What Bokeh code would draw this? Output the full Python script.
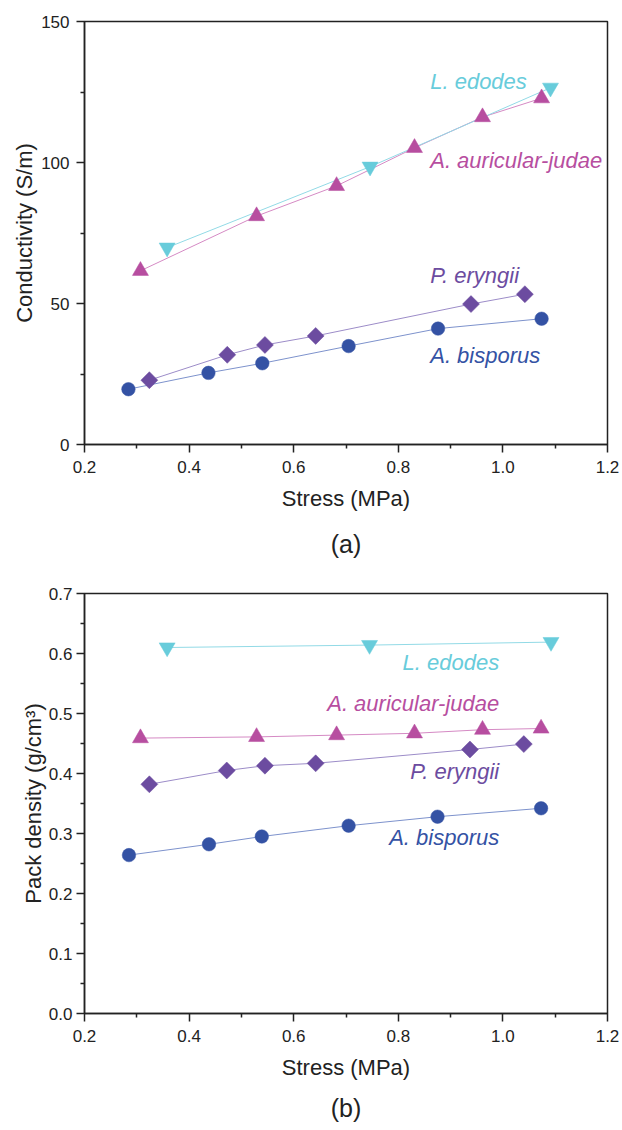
import numpy as np
from bokeh.plotting import figure
from bokeh.layouts import column
from bokeh.models import Range1d, FixedTicker, PrintfTickFormatter, Title
from bokeh.core.properties import value
from bokeh.embed import file_html
from bokeh.resources import INLINE

FONT = "Liberation Sans"

# ---------------- data: panel (a) conductivity ----------------
a_bis_x = [0.284, 0.437, 0.540, 0.705, 0.876, 1.074]
a_bis_y = [19.6, 25.4, 28.8, 34.9, 41.1, 44.6]
a_ery_x = [0.324, 0.473, 0.545, 0.642, 0.939, 1.042]
a_ery_y = [22.8, 31.8, 35.3, 38.5, 49.8, 53.3]
a_aur_x = [0.307, 0.529, 0.682, 0.831, 0.961, 1.074]
a_aur_y = [61.6, 81.0, 91.7, 105.2, 116.1, 122.8]
a_edo_x = [0.358, 0.746, 1.091]
a_edo_y = [69.8, 98.5, 126.5]

# ---------------- data: panel (b) pack density ----------------
b_bis_x = [0.285, 0.438, 0.539, 0.705, 0.875, 1.073]
b_bis_y = [0.264, 0.282, 0.295, 0.313, 0.328, 0.342]
b_ery_x = [0.324, 0.472, 0.545, 0.642, 0.937, 1.040]
b_ery_y = [0.382, 0.405, 0.413, 0.417, 0.440, 0.449]
b_aur_x = [0.307, 0.529, 0.682, 0.831, 0.961, 1.073]
b_aur_y = [0.459, 0.461, 0.464, 0.467, 0.473, 0.475]
b_edo_x = [0.358, 0.745, 1.092]
b_edo_y = [0.610, 0.614, 0.619]

species = ["A. bisporus", "P. eryngii", "A. auricular-judae", "L. edodes"]

x_major = [0.2, 0.4, 0.6, 0.8, 1.0, 1.2]
x_minor = [0.3, 0.5, 0.7, 0.9, 1.1]
a_y_major = [0, 50, 100, 150]
a_y_minor = [25, 75, 125]
b_y_major = [0.0, 0.1, 0.2, 0.3, 0.4, 0.5, 0.6, 0.7]
b_y_minor = [0.05, 0.15, 0.25, 0.35, 0.45, 0.55, 0.65]

# label anchor positions (data coordinates)
a_lab_x = [0.861, 0.861, 0.861, 0.861]
a_lab_y = [31.4, 59.9, 100.7, 128.8]
b_lab_x = [0.993, 0.993, 0.993, 0.993]
b_lab_y = [0.2935, 0.4035, 0.5164, 0.5849]

marker_colors = ["#3452A4", "#6C4CA0", "#B74EA0", "#68CCDB"]
line_colors = ["#7D92CC", "#9C8CC8", "#D58AC4", "#92DAE6"]
markers = ["circle", "square", "triangle", "inverted_triangle"]
sizes = [13.5, 12, 16, 16]
angles = [0, np.pi / 4, 0, 0]


def style(p, ymaj, ymin, yfmt, ylabel, ystandoff, ylabstand):
    p.xaxis.ticker = FixedTicker(ticks=x_major, minor_ticks=x_minor)
    p.yaxis.ticker = FixedTicker(ticks=ymaj, minor_ticks=ymin)
    p.xaxis.formatter = PrintfTickFormatter(format="%.1f")
    p.yaxis.formatter = PrintfTickFormatter(format=yfmt)
    p.xgrid.visible = False
    p.ygrid.visible = False
    for ax in (p.xaxis[0], p.yaxis[0]):
        ax.axis_line_color = "#222222"
        ax.axis_line_width = 1.5
        ax.major_tick_line_color = "#222222"
        ax.minor_tick_line_color = "#222222"
        ax.major_tick_line_width = 1.5
        ax.minor_tick_line_width = 1.5
        ax.major_tick_in = 0
        ax.major_tick_out = 8
        ax.minor_tick_in = 0
        ax.minor_tick_out = 4
        ax.major_label_text_font = FONT
        ax.major_label_text_font_size = "17px"
        ax.major_label_text_color = "#222222"
        ax.axis_label_text_font = FONT
        ax.axis_label_text_font_size = "22px"
        ax.axis_label_text_font_style = "normal"
        ax.axis_label_text_color = "#222222"
    p.xaxis.axis_label = "Stress (MPa)"
    p.yaxis.axis_label = ylabel
    p.xaxis.major_label_standoff = 8
    p.yaxis.major_label_standoff = ystandoff
    p.xaxis.axis_label_standoff = 10
    p.yaxis.axis_label_standoff = ylabstand
    p.outline_line_color = "#222222"
    p.outline_line_width = 1.5
    p.outline_line_alpha = 1.0


def add_series(p, xs, ys):
    for i, (x, y) in enumerate(zip(xs, ys)):
        p.line(x, y, line_color=line_colors[i], line_width=1)
    for i, (x, y) in enumerate(zip(xs, ys)):
        p.scatter(x, y, marker=markers[i], size=sizes[i], angle=angles[i],
                  fill_color=marker_colors[i], line_color=marker_colors[i],
                  line_width=0.5)


# ---------------- panel (a) ----------------
pa = figure(width=622, height=572, x_range=Range1d(0.2, 1.2), y_range=Range1d(0, 150),
            output_backend="svg", toolbar_location=None, title=None,
            min_border_left=81, min_border_right=15, min_border_top=21, min_border_bottom=128)
style(pa, a_y_major, a_y_minor, "%d", "Conductivity (S/m)", 7, 1)
add_series(pa, [a_bis_x, a_ery_x, a_aur_x, a_edo_x], [a_bis_y, a_ery_y, a_aur_y, a_edo_y])
for i in range(4):
    pa.text(x=[a_lab_x[i]], y=[a_lab_y[i]], text=[species[i]], text_color=marker_colors[i],
            text_font=value(FONT), text_font_style="italic", text_font_size="22px",
            text_align="left", text_baseline="middle")
pa.add_layout(Title(text="(a)", align="center", text_font=FONT, text_font_size="25px",
                    text_font_style="normal", text_color="#222222", standoff=29), "below")

# ---------------- panel (b) ----------------
pb = figure(width=622, height=558, x_range=Range1d(0.2, 1.2), y_range=Range1d(0, 0.7),
            output_backend="svg", toolbar_location=None, title=None,
            min_border_left=84, min_border_right=14, min_border_top=21, min_border_bottom=117)
style(pb, b_y_major, b_y_minor, "%.1f", "Pack density (g/cm³)", 4, 0)
add_series(pb, [b_bis_x, b_ery_x, b_aur_x, b_edo_x], [b_bis_y, b_ery_y, b_aur_y, b_edo_y])
for i in range(4):
    pb.text(x=[b_lab_x[i]], y=[b_lab_y[i]], text=[species[i]], text_color=marker_colors[i],
            text_font=value(FONT), text_font_style="italic", text_font_size="22px",
            text_align="right", text_baseline="middle")
pb.add_layout(Title(text="(b)", align="center", text_font=FONT, text_font_size="25px",
                    text_font_style="normal", text_color="#222222", standoff=18), "below")

layout = column(pa, pb, spacing=0)
open("out.html", "w").write(file_html(layout, INLINE))
